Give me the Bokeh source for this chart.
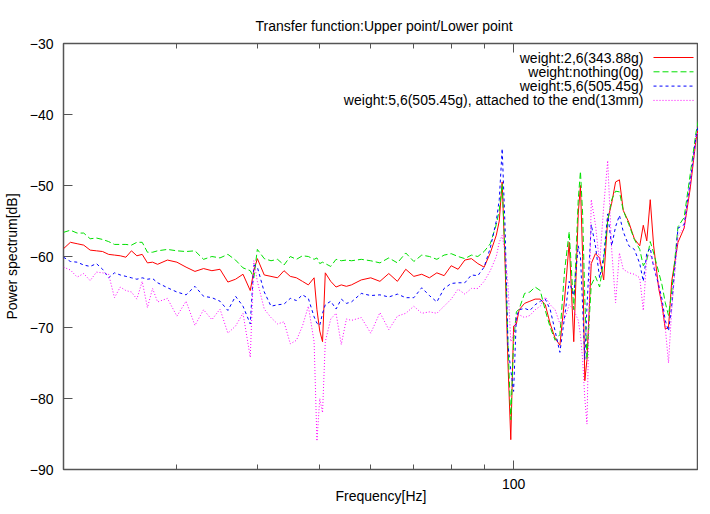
from bokeh.plotting import figure
from bokeh.models import Range1d, FixedTicker, LogAxis, Label, Arrow, PrintfTickFormatter
from bokeh.embed import file_html
from bokeh.resources import INLINE

freq = [20, 20.5, 21, 21.5, 22, 22.5, 23, 23.5, 24, 24.5, 25, 25.5, 26, 26.5, 27, 27.5, 28,
        29, 30, 31, 32, 33, 34, 35, 36, 37, 38, 39, 39.5, 40, 41, 42, 43, 44, 45, 46, 47, 48, 49, 49.5, 50, 50.5, 51, 52, 53, 54, 55, 56,
        58, 60, 62, 64, 66, 68, 70, 72, 74, 76, 78, 80, 82, 84, 86, 88, 90, 92, 94, 95, 96, 97, 98, 99, 100, 101, 102,
        104, 106, 108, 110, 112, 114, 116, 118, 120, 122, 124, 126, 127, 128, 129, 130, 132, 134, 136, 138, 140, 142, 144, 146, 148,
        151, 154, 157, 159, 161, 163, 165, 168, 170, 172, 174, 176, 180, 184, 188, 192, 196, 198, 200]

red = [-58.9, -58.0, -58.2, -58.4, -59.1, -59.2, -59.3, -59.7, -59.8, -59.9, -60.1, -59.2, -59.9, -59.7, -60.9, -60.8, -61.1,
       -60.5, -60.8, -61.5, -62.1, -61.7, -62.0, -61.8, -63.6, -63.2, -62.5, -64.8, -62.0, -60.3, -62.6, -62.8, -63.0, -62.0, -62.8, -63.0, -63.5, -64.0, -63.0, -67.5, -70.5, -72.0, -62.3, -63.5, -64.3, -64.0, -64.2, -64.0,
       -63.3, -63.0, -63.5, -62.4, -63.5, -61.8, -62.8, -62.5, -63.0, -62.3, -62.7, -61.3, -61.8, -60.5, -60.3, -61.0, -61.5, -59.5, -57.0, -55.0, -49.5, -61.0, -75.0, -85.8, -69.8, -69.5, -67.5,
       -66.6, -66.3, -66.0, -66.0, -66.8, -69.5, -71.5, -72.5, -66.0, -58.0, -72.0, -54.0, -50.0, -60.0, -77.5, -74.5, -61.0, -59.6, -60.2, -63.3, -54.8, -52.5, -49.5, -49.2, -53.5,
       -55.2, -57.5, -58.5, -55.6, -57.8, -52.0, -58.5, -64.5, -66.8, -70.2, -70.0, -63.5, -58.0, -56.0, -50.5, -43.5, -39.5, -36.6, -37.3]

green = [-56.6, -56.3, -56.7, -56.7, -57.5, -57.4, -57.6, -57.9, -58.3, -58.3, -58.3, -58.4, -58.0, -58.0, -59.4, -59.4, -59.2,
         -59.0, -59.2, -59.3, -59.2, -60.4, -60.0, -60.2, -59.7, -60.5, -61.6, -62.0, -63.0, -59.0, -60.3, -60.6, -60.4, -61.2, -60.0, -60.4, -59.9, -60.0, -60.4, -60.2, -61.0, -60.8, -61.0, -61.4, -60.4, -60.6, -60.5, -60.6,
         -60.4, -60.6, -60.9, -60.2, -60.9, -59.5, -60.7, -59.8, -60.0, -60.4, -59.8, -59.6, -60.0, -60.3, -59.8, -60.0, -59.3, -58.2, -55.5, -53.5, -49.8, -60.0, -72.0, -83.0, -72.0, -67.8, -67.4,
         -65.2, -65.0, -64.3, -64.8, -67.6, -70.0, -71.8, -71.0, -62.0, -56.5, -67.5, -52.0, -48.0, -54.0, -66.0, -74.5, -64.0, -62.8, -64.3, -60.5, -55.0, -52.0, -50.8, -50.9, -53.5,
         -55.5, -57.6, -59.0, -61.3, -60.5, -57.9, -59.5, -62.2, -64.0, -66.5, -68.3, -65.0, -55.8, -54.5, -48.5, -42.5, -38.7, -37.0, -38.0]

blue = [-60.1, -60.7, -60.8, -61.2, -61.4, -61.0, -61.8, -63.0, -62.3, -62.6, -62.8, -63.0, -63.2, -63.0, -63.2, -63.1, -63.7,
        -64.4, -65.0, -65.4, -64.2, -65.6, -65.8, -66.3, -67.6, -65.6, -67.0, -69.5, -61.2, -61.5, -65.0, -67.0, -66.8, -66.7, -65.9, -66.2, -65.4, -65.9, -68.5, -69.4, -69.7, -68.0, -66.8, -66.3, -67.4, -66.0, -66.6, -66.4,
        -65.2, -65.5, -65.4, -65.7, -65.3, -65.8, -65.8, -64.4, -65.5, -66.4, -64.5, -63.8, -63.7, -63.7, -62.6, -62.7, -61.5, -58.8, -55.0, -52.0, -44.8, -56.0, -72.5, -76.0, -79.0, -68.5, -67.5,
        -67.3, -67.6, -66.8, -66.3, -66.0, -67.5, -70.5, -73.5, -68.5, -63.5, -65.5, -58.5, -60.0, -67.0, -74.5, -67.0, -55.5, -58.5, -63.0, -60.0, -54.0, -58.5, -55.8, -54.2, -56.5,
        -58.5, -59.0, -61.0, -63.5, -59.5, -58.8, -61.5, -64.0, -66.0, -69.0, -70.5, -67.0, -56.0, -55.5, -49.5, -43.0, -39.5, -38.0, -39.0]

magenta = [-61.5, -61.9, -62.9, -62.4, -63.4, -62.2, -62.3, -62.5, -65.8, -64.3, -64.8, -65.0, -66.0, -63.5, -67.2, -64.5, -66.4,
           -65.9, -68.4, -66.3, -69.7, -67.5, -68.9, -67.4, -70.8, -69.8, -68.0, -74.2, -60.6, -63.5, -67.4, -68.6, -69.5, -69.2, -72.3, -71.8, -69.8, -67.0, -72.0, -86.0, -80.0, -82.0, -72.0, -68.8, -68.0, -72.4, -68.8, -69.0,
           -68.6, -70.8, -67.9, -70.3, -68.4, -68.0, -67.0, -68.0, -67.8, -68.0, -67.0, -66.0, -64.6, -65.3, -64.5, -64.5, -63.5, -62.0, -60.0, -58.0, -57.0, -59.5, -64.0, -72.0, -71.0, -68.5, -68.2,
           -68.6, -68.3, -67.5, -67.0, -65.7, -66.8, -67.5, -69.5, -68.8, -66.8, -67.5, -69.0, -71.0, -74.5, -80.0, -83.6, -52.0, -55.5, -61.0, -53.0, -46.5, -59.0, -66.5, -59.5, -61.8,
           -62.3, -62.5, -63.0, -67.6, -60.0, -59.8, -61.0, -64.0, -67.0, -70.0, -75.0, -67.5, -57.0, -56.0, -50.0, -43.5, -40.0, -39.0, -39.4]

series_names = ["weight:2,6(343.88g)", "weight:nothing(0g)", "weight:5,6(505.45g)",
                "weight:5,6(505.45g), attached to the end(13mm)"]
series_values = [red, green, blue, magenta]
series_colors = ["#ff0000", "#00e000", "#0000ff", "#ff00ff"]
series_dashes = ["solid", "6 3", "3 3", "1 2"]

x_major = [100]
x_minor = [20, 30, 40, 50, 60, 70, 80, 90]
y_ticks = [-90, -80, -70, -60, -50, -40, -30]

FONT = "Liberation Sans"
BORDER = "#555555"

p = figure(frame_width=635, frame_height=426, x_axis_type="log",
           x_range=Range1d(20, 193.7), y_range=Range1d(-90, -30),
           output_backend="svg", toolbar_location=None,
           min_border_left=59, min_border_right=0, min_border_top=43, min_border_bottom=37)
p.title.text = "Transfer function:Upper point/Lower point"
p.title.align = "left"
p.title.offset = 192
p.title.standoff = 19
p.title.text_font = FONT
p.title.text_font_size = "14px"
p.title.text_font_style = "normal"
p.title.text_color = "black"
p.xgrid.visible = False
p.ygrid.visible = False
p.background_fill_color = "white"
p.border_fill_color = "white"
p.outline_line_color = BORDER
p.outline_line_width = 1.5


def style_axis(ax, labels=True):
    ax.axis_line_color = None
    ax.major_tick_in = 9
    ax.major_tick_out = 0
    ax.minor_tick_in = 5
    ax.minor_tick_out = 0
    ax.major_tick_line_color = BORDER
    ax.minor_tick_line_color = BORDER
    ax.major_tick_line_width = 1
    ax.minor_tick_line_width = 1
    if labels:
        ax.major_label_text_font = FONT
        ax.major_label_text_font_size = "14px"
        ax.major_label_text_color = "black"
        ax.axis_label_text_font = FONT
        ax.axis_label_text_font_size = "14px"
        ax.axis_label_text_font_style = "normal"
        ax.axis_label_text_color = "black"
    else:
        ax.major_label_text_font_size = "1px"
        ax.major_label_text_alpha = 0
        ax.major_label_standoff = 0


xt = FixedTicker(ticks=x_major, minor_ticks=x_minor)
yt = FixedTicker(ticks=y_ticks, minor_ticks=[])

xa = p.xaxis[0]
xa.ticker = xt
xa.formatter = PrintfTickFormatter(format="%d")
style_axis(xa)
xa.axis_label = "Frequency[Hz]"
xa.major_label_standoff = 9
xa.axis_label_standoff = -4

ya = p.yaxis[0]
ya.ticker = yt
style_axis(ya)
ya.axis_label = "Power spectrum[dB]"
ya.major_label_standoff = 10
ya.axis_label_standoff = 7

top = LogAxis(ticker=xt)
style_axis(top, labels=False)
p.add_layout(top, "above")

for vals, col, dash in zip(series_values, series_colors, series_dashes):
    p.line(freq, vals, line_color=col, line_width=1, line_dash=dash)

# gnuplot-style key: right-aligned text, sample line to its right
key_text_x = 580
key_line_x0 = 590
key_line_x1 = 630
key_top = 412
key_step = 14.3
for i, (name, col, dash) in enumerate(zip(series_names, series_colors, series_dashes)):
    yy = key_top - i * key_step
    p.add_layout(Label(x=key_text_x, y=yy, x_units="screen", y_units="screen", text=name,
                       text_align="right", text_baseline="middle", text_font=FONT,
                       text_font_size="14px", text_color="black"))
    p.add_layout(Arrow(end=None, x_start=key_line_x0, x_end=key_line_x1, y_start=yy, y_end=yy,
                       start_units="screen", end_units="screen",
                       line_color=col, line_width=1, line_dash=dash))

open("out.html", "w").write(file_html(p, INLINE))
